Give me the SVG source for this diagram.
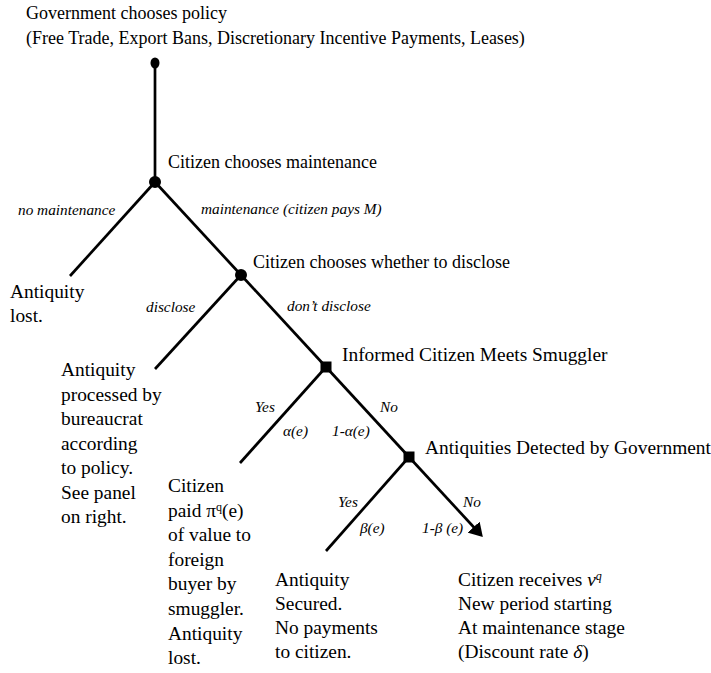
<svg xmlns="http://www.w3.org/2000/svg" width="711" height="673" viewBox="0 0 711 673">
<style>
text{font-family:'Liberation Serif','Times New Roman','DejaVu Serif',serif;fill:#000}
.t{font-size:18px}
.b{font-size:19.4px}
.l{font-size:15.3px;font-style:italic}
.e{stroke:#000;stroke-width:2.7;fill:none}
</style>
<defs>
<marker id="ah" markerWidth="6" markerHeight="6" refX="4" refY="3" orient="auto" markerUnits="strokeWidth">
<path d="M0,0 L5,3 L0,6 Z" fill="#000"/>
</marker>
<clipPath id="cp"><rect x="0" y="0" width="711" height="667"/></clipPath>
</defs>
<g id="connectors">
<line class="e" x1="155" y1="63" x2="155" y2="182"/>
<line class="e" x1="155" y1="182" x2="70" y2="276"/>
<line class="e" x1="155" y1="182" x2="241" y2="275"/>
<line class="e" x1="241" y1="275" x2="155" y2="369"/>
<line class="e" x1="241" y1="275" x2="326" y2="367"/>
<line class="e" x1="326" y1="367" x2="240" y2="463"/>
<line class="e" x1="326" y1="367" x2="409" y2="457"/>
<line class="e" x1="409" y1="457" x2="326" y2="551"/>
<line class="e" x1="409" y1="457" x2="481" y2="535" marker-end="url(#ah)"/>
<text class="l" x="18" y="215">no maintenance</text>
<text class="l" x="201" y="214">maintenance (citizen pays M)</text>
<text class="l" x="146" y="312">disclose</text>
<text class="l" x="287" y="311">don’t disclose</text>
<text class="l" x="255" y="412">Yes</text>
<text class="l" x="380" y="412">No</text>
<text class="l" x="283" y="436">α(e)</text>
<text class="l" x="332" y="436">1-α(e)</text>
<text class="l" x="338" y="507">Yes</text>
<text class="l" x="463" y="507">No</text>
<text class="l" x="360" y="533">β(e)</text>
<text class="l" x="422" y="533">1-β (e)</text>
</g>
<g id="root">
<ellipse cx="155" cy="63" rx="4.5" ry="5.5" fill="#000"/>
<text class="t" x="26" y="19">Government chooses policy</text>
<text class="t" x="26" y="44">(Free Trade, Export Bans, Discretionary Incentive Payments, Leases)</text>
</g>
<g id="maintenance">
<circle cx="155" cy="182" r="6" fill="#000"/>
<text class="t" x="168" y="168">Citizen chooses maintenance</text>
</g>
<g id="lost">
<text class="b" x="10" y="298">Antiquity</text>
<text class="b" x="10" y="322">lost.</text>
</g>
<g id="disclose">
<circle cx="241" cy="275" r="6" fill="#000"/>
<text class="t" x="253" y="268">Citizen chooses whether to disclose</text>
</g>
<g id="processed">
<text class="b" x="61" y="376">Antiquity</text>
<text class="b" x="61" y="401">processed by</text>
<text class="b" x="61" y="425">bureaucrat</text>
<text class="b" x="61" y="450">according</text>
<text class="b" x="61" y="474">to policy.</text>
<text class="b" x="61" y="499">See panel</text>
<text class="b" x="61" y="523">on right.</text>
</g>
<g id="smuggler">
<rect x="320.5" y="361.5" width="11" height="11" fill="#000"/>
<text class="b" x="342" y="361">Informed Citizen Meets Smuggler</text>
</g>
<g id="paid" clip-path="url(#cp)">
<text class="b" x="168" y="492">Citizen</text>
<text class="b" x="168" y="517">paid π<tspan font-size="12" dy="-6">q</tspan><tspan dy="6">(e)</tspan></text>
<text class="b" x="168" y="541">of value to</text>
<text class="b" x="168" y="566">foreign</text>
<text class="b" x="168" y="590">buyer by</text>
<text class="b" x="168" y="615">smuggler.</text>
<text class="b" x="168" y="640">Antiquity</text>
<text class="b" x="168" y="664">lost.</text>
</g>
<g id="detected">
<rect x="403.5" y="451.5" width="11" height="11" fill="#000"/>
<text class="b" x="425" y="454">Antiquities Detected by Government</text>
</g>
<g id="secured">
<text class="b" x="275" y="586">Antiquity</text>
<text class="b" x="275" y="610">Secured.</text>
<text class="b" x="275" y="634">No payments</text>
<text class="b" x="275" y="658">to citizen.</text>
</g>
<g id="receives">
<text class="b" x="458" y="586">Citizen receives <tspan font-style="italic">v</tspan><tspan font-style="italic" font-size="12" dy="-6">q</tspan></text>
<text class="b" x="458" y="610">New period starting</text>
<text class="b" x="458" y="634">At maintenance stage</text>
<text class="b" x="458" y="658">(Discount rate <tspan font-style="italic">δ</tspan>)</text>
</g>
</svg>
